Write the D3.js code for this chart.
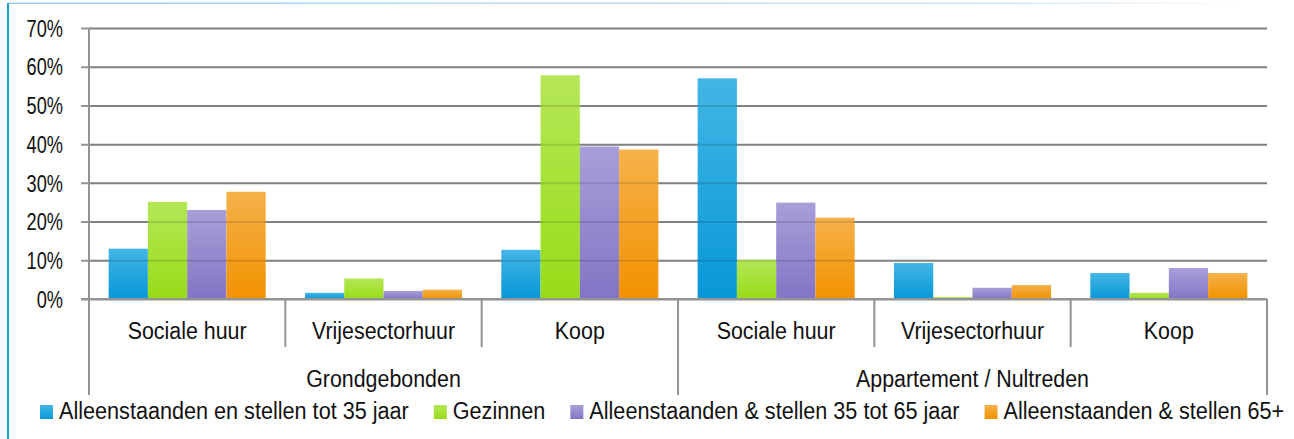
<!DOCTYPE html>
<html><head><meta charset="utf-8">
<script src="https://cdn.jsdelivr.net/npm/d3@7"></script>
<style>
html,body{margin:0;padding:0;background:#fff;}
svg{display:block;}
text{font-family:"Liberation Sans",Arial,sans-serif;fill:#111;}
</style></head>
<body>
<script>
// ---- data ----
const groups = ["Grondgebonden", "Appartement / Nultreden"];
const types = ["Sociale huur", "Vrijesectorhuur", "Koop"];
const seriesNames = [
  "Alleenstaanden en stellen tot 35 jaar",
  "Gezinnen",
  "Alleenstaanden & stellen 35 tot 65 jaar",
  "Alleenstaanden & stellen 65+"
];
const tot35   = [13.0, 1.6, 12.7, 57.0, 9.3, 6.7];
const gezin   = [25.1, 5.3, 57.8, 10.1, 0.5, 1.6];
const mid3565 = [23.0, 2.1, 39.4, 24.9, 2.9, 8.0];
const plus65  = [27.7, 2.4, 38.6, 21.0, 3.6, 6.7];
const yTicks = [0, 10, 20, 30, 40, 50, 60, 70];

const seriesValues = [tot35, gezin, mid3565, plus65];
const gradStops = [
  ["#43b6e5", "#0797d7"],
  ["#b5e757", "#97dc17"],
  ["#a89fd9", "#8474c5"],
  ["#f5b14a", "#f29200"]
];

// condense text horizontally (reference uses a condensed face)
function condense(sel, k) {
  sel.each(function () {
    const w = this.getComputedTextLength();
    d3.select(this).attr("textLength", w * k).attr("lengthAdjust", "spacingAndGlyphs");
  });
}

const W = 1294, H = 439;
const svg = d3.select("body").append("svg").attr("width", W).attr("height", H);
const defs = svg.append("defs");
gradStops.forEach((g, i) => {
  const lg = defs.append("linearGradient").attr("id", "g" + i)
    .attr("x1", 0).attr("y1", 0).attr("x2", 0).attr("y2", 1);
  lg.append("stop").attr("offset", "0%").attr("stop-color", g[0]);
  lg.append("stop").attr("offset", "100%").attr("stop-color", g[1]);
});
const tg = defs.append("linearGradient").attr("id", "topline").attr("x1", 0).attr("x2", 1).attr("y1", 0).attr("y2", 0);
tg.append("stop").attr("offset", "0%").attr("stop-color", "#9fcdec");
tg.append("stop").attr("offset", "80%").attr("stop-color", "#cfe5f4");
tg.append("stop").attr("offset", "100%").attr("stop-color", "#ffffff");

// frame
svg.append("rect").attr("x", 8).attr("y", 2.5).attr("width", 1240).attr("height", 1.5).attr("fill", "url(#topline)");
svg.append("rect").attr("x", 7).attr("y", 3).attr("width", 2).attr("height", H - 3).attr("fill", "#1d9fdc");

const left = 89, right = 1267;
const y = d3.scaleLinear().domain([0, 70]).range([299, 28]);
const cats = d3.range(groups.length * types.length);
const x0 = d3.scaleBand().domain(cats).range([left, right]).paddingInner(0).paddingOuter(0);
const x1 = d3.scaleBand().domain(d3.range(seriesNames.length)).range([0, x0.bandwidth()]).paddingInner(0).paddingOuter(0.5);

// grid
const gridAxis = d3.axisLeft(y).tickValues(yTicks).tickSize(right - 81).tickFormat("");
const grid = svg.append("g").attr("transform", `translate(${right},0)`).call(gridAxis);
grid.select(".domain").remove();
grid.selectAll("line").attr("stroke", "#939393").attr("stroke-width", 2);

// y labels
const yLab = svg.append("g").attr("transform", `translate(${left},0)`)
  .call(d3.axisLeft(y).tickValues(yTicks).tickSize(0).tickPadding(26).tickFormat(d => d + "%"));
yLab.select(".domain").remove();
yLab.selectAll("text").attr("font-size", 23).attr("dy", "0.36em")
  .style("font-family", '"Liberation Sans",Arial,sans-serif').attr("fill", "#111")
  .call(condense, 0.79);

// bars
const barG = svg.append("g");
seriesValues.forEach((vals, si) => {
  barG.selectAll(".b" + si).data(vals).enter().append("rect")
    .attr("x", (d, i) => x0(i) + x1(si))
    .attr("width", x1.bandwidth())
    .attr("y", d => y(d))
    .attr("height", d => y(0) - y(d))
    .attr("fill", `url(#g${si})`);
});

// gridlines shading over bars
const grid2 = svg.append("g").attr("transform", `translate(${right},0)`)
  .call(d3.axisLeft(y).tickValues(yTicks.filter(t => t > 0)).tickSize(right - left).tickFormat(""));
grid2.select(".domain").remove();
grid2.selectAll("line").attr("stroke", "#000").attr("stroke-opacity", 0.12).attr("stroke-width", 2);

// x axis baseline
svg.append("line").attr("x1", 81).attr("x2", right).attr("y1", y(0)).attr("y2", y(0))
  .attr("stroke", "#939393").attr("stroke-width", 2);
// y axis line
svg.append("line").attr("x1", left).attr("x2", left).attr("y1", y(70)).attr("y2", 395)
  .attr("stroke", "#939393").attr("stroke-width", 2);

// category separators
const bounds = cats.map(i => x0(i)).concat([right]);
bounds.forEach((bx, i) => {
  if (i === 0) return;
  const isGroup = i % types.length === 0;
  svg.append("line").attr("x1", bx).attr("x2", bx).attr("y1", y(0)).attr("y2", isGroup ? 395 : 347)
    .attr("stroke", "#939393").attr("stroke-width", 2);
});

// category labels
svg.append("g").selectAll("text").data(cats).enter().append("text")
  .attr("x", i => x0(i) + x0.bandwidth() / 2).attr("y", 339)
  .attr("text-anchor", "middle").attr("font-size", 23)
  .text(i => types[i % types.length])
  .call(condense, 0.93);

// group labels
svg.append("g").selectAll("text").data(groups).enter().append("text")
  .attr("x", (d, gi) => (x0(gi * types.length) + x0((gi + 1) * types.length - 1) + x0.bandwidth()) / 2)
  .attr("y", 387).attr("text-anchor", "middle").attr("font-size", 23)
  .text(d => d)
  .call(condense, 0.93);

// legend
const leg = svg.append("g");
let lx = 40;
seriesNames.forEach((name, si) => {
  leg.append("rect").attr("x", lx).attr("y", 405).attr("width", 13).attr("height", 14).attr("fill", `url(#g${si})`);
  const t = leg.append("text").attr("x", lx + 19).attr("y", 419).attr("font-size", 23).text(name);
  const w = t.node().getComputedTextLength() * 0.94;
  t.attr("textLength", w).attr("lengthAdjust", "spacingAndGlyphs");
  lx = lx + 19 + w + 25;
});
</script>
</body></html>
